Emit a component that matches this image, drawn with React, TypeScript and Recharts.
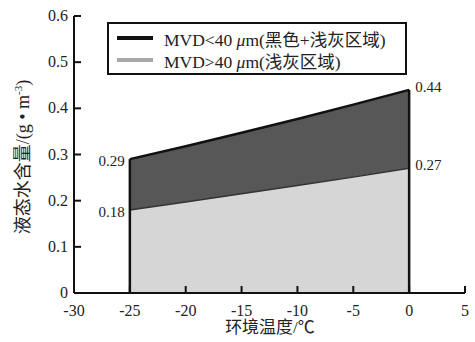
import { ComposedChart, Area, XAxis, YAxis, ReferenceLine, LabelList } from 'recharts'

// 环境温度 (°C)
const temps = [-25, -20, -15, -10, -5, 0]
// MVD<40 μm 上边界 (黑色+浅灰区域)
const upperLwc = [0.29, 0.318, 0.347, 0.377, 0.408, 0.44]
// MVD>40 μm 上边界 (浅灰区域)
const lowerLwc = [0.18, 0.197, 0.215, 0.233, 0.251, 0.27]

const xTicks = [-30, -25, -20, -15, -10, -5, 0, 5]
const yTicks = [0, 0.1, 0.2, 0.3, 0.4, 0.5, 0.6]

const data = temps.map((t, i) => ({ t, upper: upperLwc[i], lower: lowerLwc[i] }))

const serif = '"Liberation Serif", "Times New Roman", "Noto Sans CJK SC", serif'

const YTick = ({ x, y, payload }: any) => (
  <g>
    <line x1={x} y1={y} x2={x + 7} y2={y} stroke="#111" strokeWidth={2} />
    <text x={x - 6} y={y + 5} textAnchor="end" fontSize={16} fontFamily={serif} fill="#222">
      {payload.value === 0 ? '0' : payload.value.toFixed(1)}
    </text>
  </g>
)

const XTick = ({ x, y, payload }: any) => (
  <g>
    <line x1={x} y1={y} x2={x} y2={y - 7} stroke="#111" strokeWidth={2} />
    <text x={x} y={y + 23} textAnchor="middle" fontSize={16} fontFamily={serif} fill="#222">
      {payload.value}
    </text>
  </g>
)

const EndLabel = ({ x, y, value, index }: any) => {
  if (index !== 0 && index !== temps.length - 1) return null
  const first = index === 0
  return (
    <text
      x={first ? x - 5 : x + 6}
      y={first ? y + 7 : y + 2}
      textAnchor={first ? 'end' : 'start'}
      fontSize={15}
      fontFamily={serif}
      fill="#222"
    >
      {value.toFixed(2)}
    </text>
  )
}

export default function App() {
  const first = 0
  const last = temps.length - 1
  return (
    <div style={{ position: 'absolute', left: 0, top: 0, width: 475, height: 342, background: '#fff' }}>
      <ComposedChart
        width={475}
        height={342}
        data={data}
        margin={{ top: 16, right: 10, bottom: 19, left: 34 }}
        style={{ overflow: 'visible' }}
      >
        <XAxis
          dataKey="t"
          type="number"
          domain={[-30, 5]}
          ticks={xTicks}
          tickSize={0}
          tickMargin={0}
          tick={<XTick />}
          axisLine={{ stroke: '#111', strokeWidth: 2 }}
          tickLine={false}
          interval={0}
          height={30}
        />
        <YAxis
          type="number"
          domain={[0, 0.6]}
          ticks={yTicks}
          tickSize={0}
          tickMargin={0}
          tick={<YTick />}
          axisLine={{ stroke: '#111', strokeWidth: 2 }}
          tickLine={false}
          interval={0}
          width={40}
        />
        <Area
          type="linear"
          dataKey="upper"
          fill="#575757"
          fillOpacity={1}
          stroke="#111"
          strokeWidth={2.5}
          isAnimationActive={false}
        >
          <LabelList dataKey="upper" content={<EndLabel />} />
        </Area>
        <Area
          type="linear"
          dataKey="lower"
          fill="#d6d6d6"
          fillOpacity={1}
          stroke="#333"
          strokeWidth={1.5}
          isAnimationActive={false}
        >
          <LabelList dataKey="lower" content={<EndLabel />} />
        </Area>
        <ReferenceLine
          segment={[{ x: temps[first], y: 0 }, { x: temps[first], y: upperLwc[first] }]}
          stroke="#111"
          strokeWidth={2.5}
        />
        <ReferenceLine
          segment={[{ x: temps[last], y: 0 }, { x: temps[last], y: upperLwc[last] }]}
          stroke="#111"
          strokeWidth={2.5}
        />
        <text x={270} y={333} textAnchor="middle" fontSize={17} fontFamily={serif} fill="#222">
          环境温度/℃
        </text>
        <text
          x={0}
          y={0}
          transform="translate(29,157) rotate(-90)"
          textAnchor="middle"
          fontSize={18}
          fontFamily={serif}
          fill="#222"
        >
          液态水含量/(g • m<tspan dy={-7} fontSize={11}>-3</tspan><tspan dy={7}>)</tspan>
        </text>
      </ComposedChart>
      <div
        style={{
          position: 'absolute',
          left: 107,
          top: 22,
          width: 296,
          height: 49,
          border: '2px solid #111',
          background: '#fff',
          fontFamily: serif,
          fontSize: 17.5,
          color: '#222',
        }}
      >
        {[
          { color: '#111', label: '(黑色+浅灰区域)', sign: '<' },
          { color: '#a8a8a8', label: '(浅灰区域)', sign: '>' },
        ].map((row, i) => (
          <div key={i} style={{ position: 'absolute', left: 8, top: i === 0 ? 4 : 26, height: 20, display: 'flex', alignItems: 'center' }}>
            <span style={{ display: 'inline-block', width: 36, height: 4, background: row.color, marginRight: 11 }} />
            <span style={{ whiteSpace: 'nowrap' }}>
              MVD{row.sign}40 <i>μ</i>m{row.label}
            </span>
          </div>
        ))}
      </div>
    </div>
  )
}
